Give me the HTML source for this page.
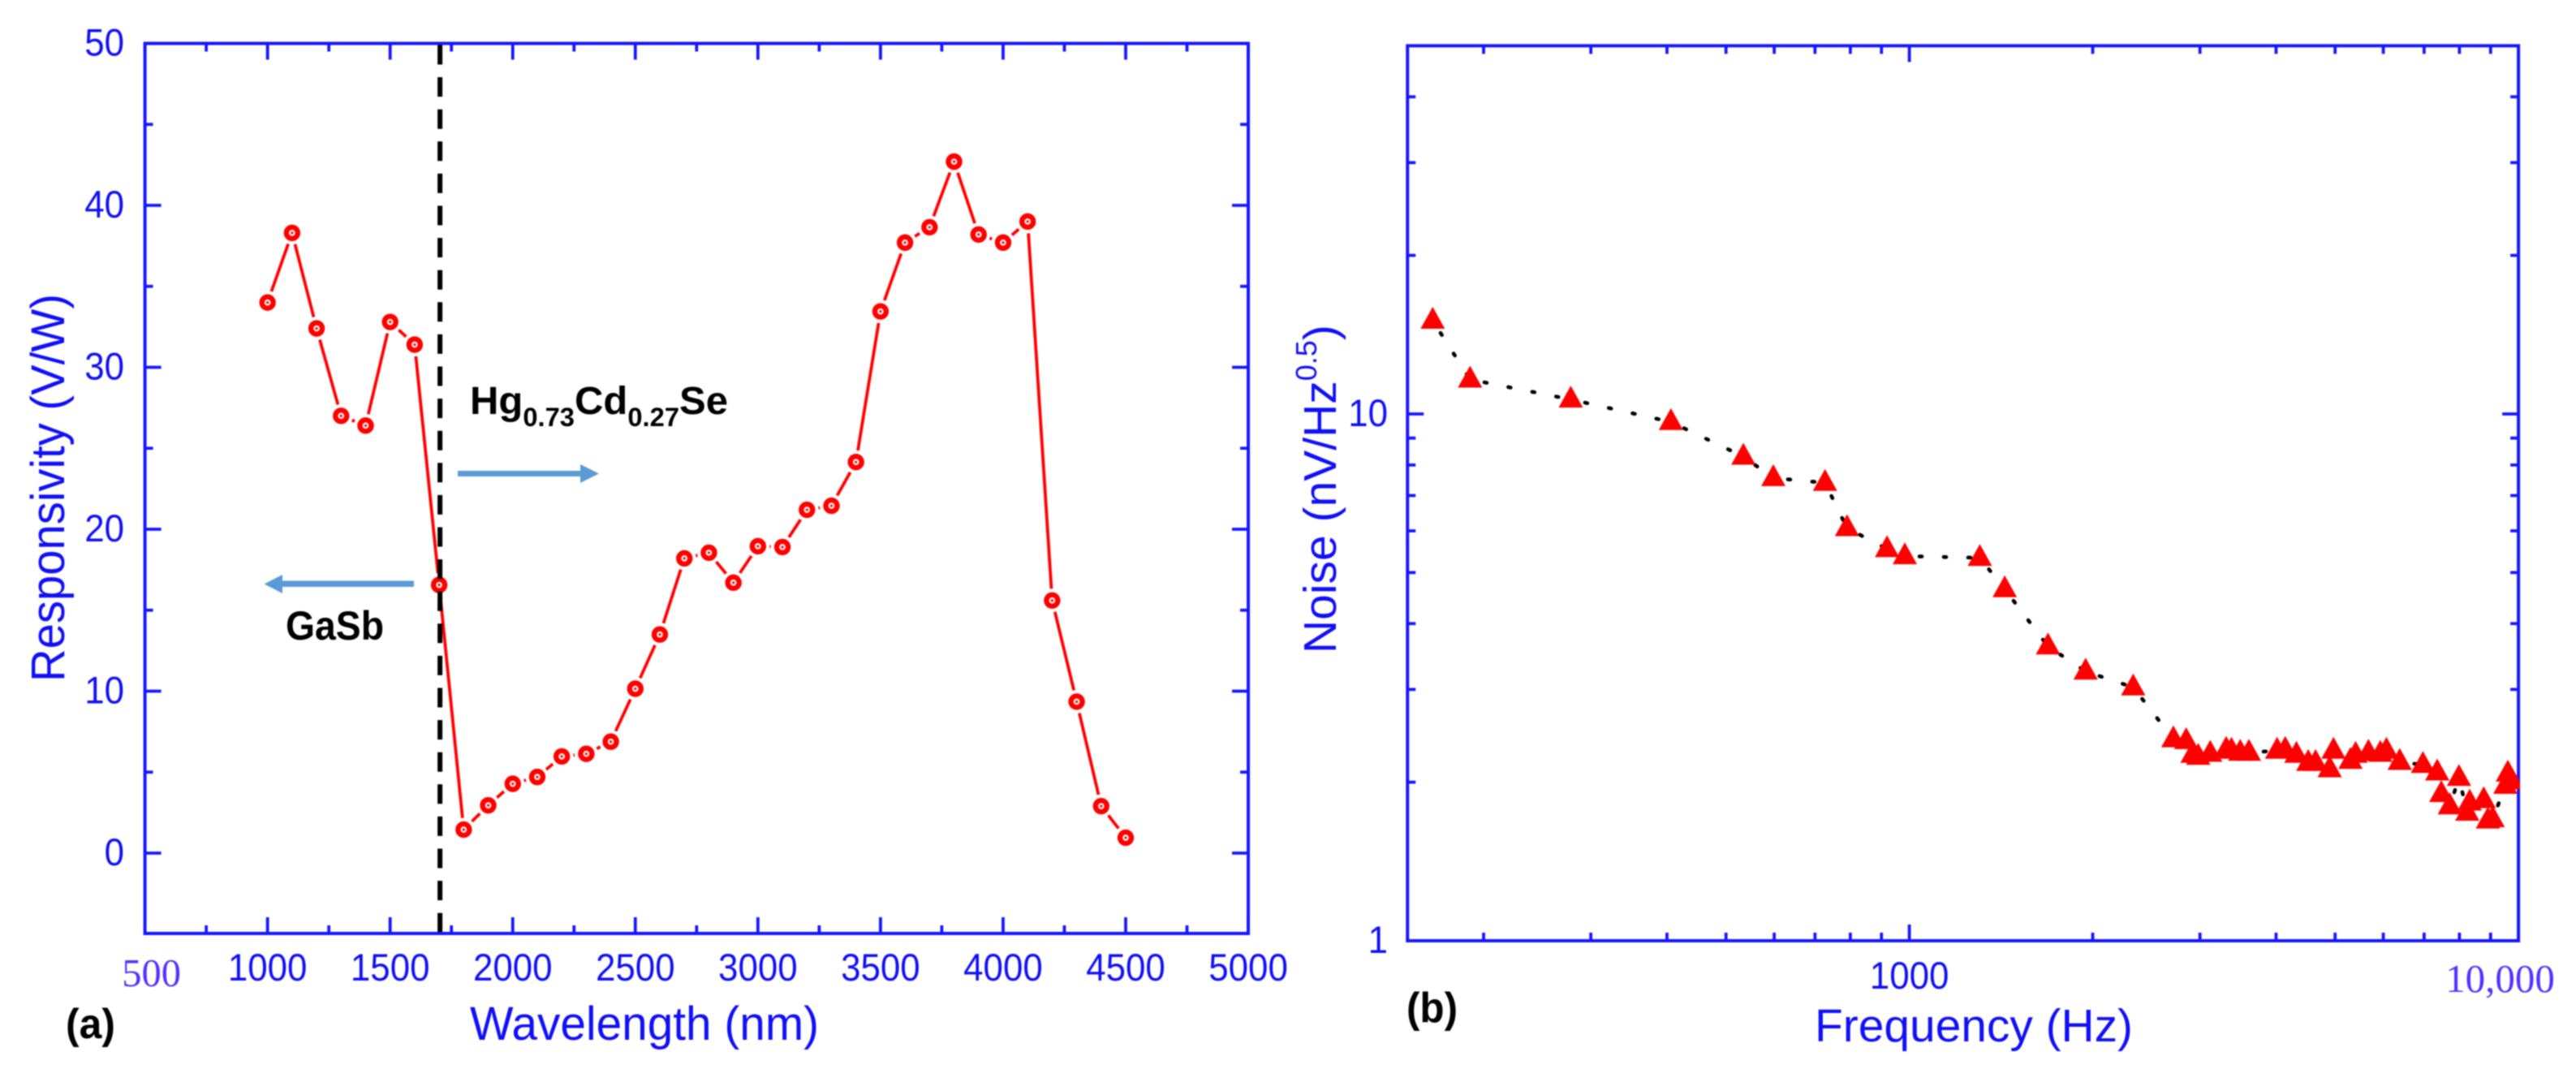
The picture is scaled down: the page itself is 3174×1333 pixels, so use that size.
<!DOCTYPE html>
<html>
<head>
<meta charset="utf-8">
<title>Responsivity and noise charts</title>
<style>
  html, body { margin: 0; padding: 0; background: #fff; }
  body { width: 3174px; height: 1333px; overflow: hidden; }
  svg { display: block; filter: blur(0.9px); }
  text { font-family: "Liberation Sans", Arial, sans-serif; fill: #1010f5; }
  .serif { font-family: "Liberation Serif", "Times New Roman", serif; fill: #5530ff; }
  .note { fill: #000; font-weight: bold; }
</style>
</head>
<body>
<svg id="figure" xmlns="http://www.w3.org/2000/svg" width="3174" height="1333" viewBox="0 0 3174 1333">
  <rect x="0" y="0" width="3174" height="1333" fill="#ffffff"/>
  <g id="panelA"></g>
  <g id="panelB"></g>

  <text class="note" x="81" y="1279" font-size="52" textLength="61" lengthAdjust="spacingAndGlyphs">(a)</text>
  <text class="note" x="1733" y="1259" font-size="52" textLength="63" lengthAdjust="spacingAndGlyphs">(b)</text>

  <text x="579" y="1281" font-size="58" textLength="430" lengthAdjust="spacingAndGlyphs">Wavelength (nm)</text>
  <text transform="translate(79,840) rotate(-90)" font-size="58" textLength="478" lengthAdjust="spacingAndGlyphs">Responsivity (V/W)</text>
  <text x="2236" y="1283" font-size="57" textLength="392" lengthAdjust="spacingAndGlyphs">Frequency (Hz)</text>
  <text transform="translate(1646,805) rotate(-90)" font-size="57">Noise (nV/Hz<tspan font-size="36" dy="-24">0.5</tspan><tspan dy="24">)</tspan></text>

  <g>
    <text class="note" x="579" y="510" font-size="48" textLength="318" lengthAdjust="spacingAndGlyphs">Hg<tspan font-size="32" dy="15">0.73</tspan><tspan dy="-15">Cd</tspan><tspan font-size="32" dy="15">0.27</tspan><tspan dy="-15">Se</tspan></text>
    <text class="note" x="352" y="788" font-size="50" textLength="121" lengthAdjust="spacingAndGlyphs">GaSb</text>
    <polygon fill="#5b9bd5" points="564,580 715,580 715,572 738,583.5 715,595 715,587 564,587"/>
    <polygon fill="#5b9bd5" points="510,715.5 348,715.5 348,708 325.5,719.5 348,731 348,723 510,723"/>
  </g>
</svg>

<script>
// ---- Panel (a) data ----
const wavelengths = [1000,1100,1200,1300,1400,1500,1600,1700,1800,1900,2000,2100,2200,2300,2400,2500,2600,2700,2800,2900,3000,3100,3200,3300,3400,3500,3600,3700,3800,3900,4000,4100,4200,4300,4400,4500];
const responsivity = [34.0,38.3,32.4,27.0,26.4,32.8,31.4,16.56,1.45,2.95,4.28,4.7,5.97,6.13,6.88,10.15,13.5,18.2,18.55,16.7,18.95,18.9,21.2,21.45,24.15,33.45,37.7,38.65,42.7,38.2,37.7,39.0,15.6,9.35,2.9,0.95];
const wavelengthTicks = [1000,1500,2000,2500,3000,3500,4000,4500,5000];
const wavelengthMinorTicks = [750,1250,1750,2250,2750,3250,3750,4250,4750];
const responsivityTicks = [0,10,20,30,40,50];
const responsivityMinorTicks = [5,15,25,35,45];
const cutoffWavelength = 1700;

// ---- Panel (b) data ----
const frequency = [165,190,278,406,534,598,727,790,919,983,1305,1434,1689,1947,2331,2713,2848,2917,2980,3118,3313,3379,3493,3610,4016,4140,4319,4517,4644,4970,4898,5299,5404,5673,5933,6070,6384,6969,7356,7985,7470,7715,8317,8240,8770,8908,9071,9605,9519,9710];
const noise = [15.2,11.75,10.77,9.76,8.39,7.64,7.48,6.14,5.60,5.43,5.39,4.70,3.66,3.28,3.06,2.44,2.42,2.28,2.26,2.29,2.33,2.32,2.30,2.30,2.32,2.33,2.28,2.20,2.20,2.32,2.14,2.22,2.28,2.30,2.29,2.32,2.21,2.18,2.11,2.06,1.92,1.82,1.85,1.77,1.87,1.71,1.72,2.10,1.99,2.03];
const frequencyMinorTicks = [200,300,400,500,600,700,800,900,2000,3000,4000,5000,6000,7000,8000,9000];
const frequencyMajorTicks = [1000];
const noiseMinorTicks = [2,3,4,5,6,7,8,9,20,30,40];
const noiseMajorTicks = [1,10];

const SVGNS = 'http://www.w3.org/2000/svg';
const AXIS_BLUE = '#1616ff';
const DIGIT_WIDTH = 24.4;

function make(tag, attrs, parent, content) {
  const node = document.createElementNS(SVGNS, tag);
  for (const k in attrs) node.setAttribute(k, attrs[k]);
  if (content !== undefined) node.textContent = content;
  parent.appendChild(node);
  return node;
}

// Axis functions
function xA(w) { return 178.6 + (w - 500) * 0.3021; }
function yA(v) { return 1051 - v * 19.95; }
function xB(f) { return 2352.6 + 750.5 * (Math.log10(f) - 3); }
function yB(n) { return 1159 - 649 * Math.log10(n); }

function frame(parent, x0, y0, x1, y1) {
  const r = make('rect', { x: x0, y: y0, width: x1 - x0, height: y1 - y0, fill: 'none', stroke: AXIS_BLUE, 'stroke-width': 4 }, parent);
  
  
}

function tickX(parent, x, y0, y1, len, name) {
  const path = 'M' + x + ' ' + y0 + 'v' + len + 'M' + x + ' ' + y1 + 'v' + (-len);
  const t = make('path', { d: path, stroke: AXIS_BLUE, 'stroke-width': 3.8, fill: 'none' }, parent);
  
  
}

function tickY(parent, y, x0, x1, len, name) {
  const path = 'M' + x0 + ' ' + y + 'h' + len + 'M' + x1 + ' ' + y + 'h' + (-len);
  const t = make('path', { d: path, stroke: AXIS_BLUE, 'stroke-width': 3.8, fill: 'none' }, parent);
  
  
}

// ---- Draw panel (a) ----
(function () {
  const g = document.getElementById('panelA');
  const L = xA(500), R = xA(5000), T = yA(50), B = 1150;

  const gAxes = make('g', {}, g);
  
  

  wavelengthTicks.forEach(function (w) {
    tickX(gAxes, xA(w), T, B, 20, 'x-major-tick');
    const s = String(w);
    const lab = make('text', { x: xA(w), y: 1208, 'font-size': 47, 'text-anchor': 'middle', textLength: s.length * DIGIT_WIDTH, lengthAdjust: 'spacingAndGlyphs' }, gAxes, s);
    
    
  });
  wavelengthMinorTicks.forEach(function (w) { tickX(gAxes, xA(w), T, B, 10, 'x-minor-tick'); });
  responsivityTicks.forEach(function (v) {
    tickY(gAxes, yA(v), L, R, 20, 'y-major-tick');
    const s = String(v);
    const lab = make('text', { x: 153, y: yA(v) + 15, 'font-size': 47, 'text-anchor': 'end', textLength: s.length * DIGIT_WIDTH, lengthAdjust: 'spacingAndGlyphs' }, gAxes, s);
    
    
  });
  responsivityMinorTicks.forEach(function (v) { tickY(gAxes, yA(v), L, R, 10, 'y-minor-tick'); });

  const first = make('text', { x: xA(500) + 8, y: 1215, 'font-size': 48.5, 'text-anchor': 'middle', 'class': 'serif' }, gAxes, '500');
  
  

  frame(gAxes, L, T, R, B);

  const d = wavelengths.map(function (w, i) { return (i ? 'L' : 'M') + xA(w).toFixed(1) + ' ' + yA(responsivity[i]).toFixed(1); }).join('');
  const line = make('path', { d: d, fill: 'none', stroke: '#ff0000', 'stroke-width': 3.8, 'stroke-linejoin': 'round' }, g);
  
  

  wavelengths.forEach(function (w, i) {
    const cx = xA(w), cy = yA(responsivity[i]);
    const pt = make('g', {}, g);
    
    
    make('circle', { cx: cx, cy: cy, r: 14.5, fill: '#ffffff' }, pt);
    make('circle', { cx: cx, cy: cy, r: 7, fill: '#ffffff', stroke: '#ff0000', 'stroke-width': 6.4 }, pt);
    make('circle', { cx: cx, cy: cy, r: 1.6, fill: '#ff0000' }, pt);
  });

  const cut = make('line', { x1: xA(cutoffWavelength) + 1, x2: xA(cutoffWavelength) + 1, y1: T + 2, y2: B - 2, stroke: '#000000', 'stroke-width': 6, 'stroke-dasharray': '24 15.6' }, g);
  
  
})();

// ---- Draw panel (b) ----
(function () {
  const g = document.getElementById('panelB');
  const L = xB(150), R = xB(10000), T = yB(50), B = yB(1);

  const gAxes = make('g', {}, g);
  
  

  frequencyMinorTicks.forEach(function (f) { tickX(gAxes, xB(f), T, B, 10, 'x-minor-tick'); });
  frequencyMajorTicks.forEach(function (f) {
    tickX(gAxes, xB(f), T, B, 20, 'x-major-tick');
    const s = String(f);
    const lab = make('text', { x: xB(f), y: 1218, 'font-size': 47, 'text-anchor': 'middle', textLength: s.length * DIGIT_WIDTH, lengthAdjust: 'spacingAndGlyphs' }, gAxes, s);
    
    
  });
  noiseMinorTicks.forEach(function (n) { tickY(gAxes, yB(n), L, R, 10, 'y-minor-tick'); });
  noiseMajorTicks.forEach(function (n) {
    tickY(gAxes, yB(n), L, R, 20, 'y-major-tick');
    const s = String(n);
    const lab = make('text', { x: 1710, y: yB(n) + 15, 'font-size': 47, 'text-anchor': 'end', textLength: s.length * DIGIT_WIDTH, lengthAdjust: 'spacingAndGlyphs' }, gAxes, s);
    
    
  });

  const last = make('text', { x: 3080.5, y: 1222, 'font-size': 49, 'text-anchor': 'middle', 'class': 'serif' }, gAxes, '10,000');
  
  

  frame(gAxes, L, T, R, B);

  const order = frequency.map(function (f, i) { return i; }).sort(function (a, b) { return frequency[a] - frequency[b]; });
  const gDots = make('g', {}, g);
  
  
  for (let k = 0; k + 1 < order.length; k++) {
    const a = order[k], b = order[k + 1];
    const seg = make('line', {
      x1: xB(frequency[a]), y1: yB(noise[a]) + 3, x2: xB(frequency[b]), y2: yB(noise[b]) + 3,
      stroke: '#000000', 'stroke-width': 4.6, 'stroke-linecap': 'round',
      'stroke-dasharray': '3 27', 'stroke-dashoffset': -18
    }, gDots);
    
    
  }

  const clip = make('clipPath', { id: 'clipB' }, g);
  make('rect', { x: L, y: T, width: R - L + 2, height: B - T }, clip);
  const gTri = make('g', { 'clip-path': 'url(#clipB)' }, g);
  
  
  frequency.forEach(function (f, i) {
    const cx = xB(f), cy = yB(noise[i]);
    const p = (cx).toFixed(1) + ',' + (cy - 14).toFixed(1) + ' ' + (cx + 15).toFixed(1) + ',' + (cy + 13).toFixed(1) + ' ' + (cx - 15).toFixed(1) + ',' + (cy + 13).toFixed(1);
    const tri = make('polygon', { points: p, fill: '#ff0000' }, gTri);
    
    
  });
})();
</script>
</body>
</html>
